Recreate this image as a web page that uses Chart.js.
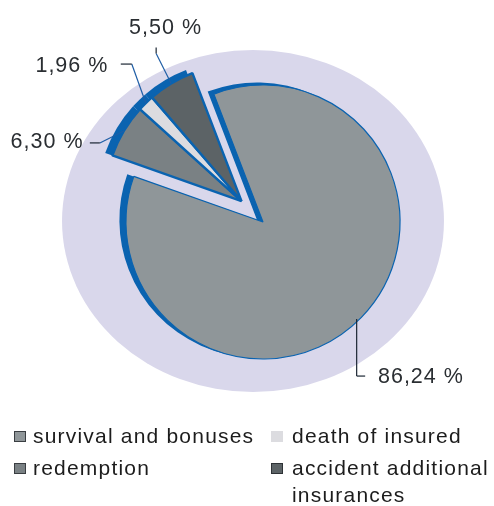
<!DOCTYPE html>
<html>
<head>
<meta charset="utf-8">
<script src="https://cdn.jsdelivr.net/npm/chart.js@4.4.1/dist/chart.umd.min.js"></script>
<style>
  html, body { margin: 0; padding: 0; background: #fff; }
  #wrap { width: 494px; height: 506px; position: relative; }
</style>
</head>
<body>
<div id="wrap"><canvas id="utbetalningar"></canvas></div>
<script>
//data: andelar i procent
const categories = ['survival and bonuses', 'redemption', 'death of insured', 'accident additional insurances'];
const shares = [86.24, 6.30, 1.96, 5.50];

//utseende
const slice_colors = ['#8f9699', '#7a8184', '#dcdce0', '#5c6366'];
const slice_borders = [1.2, 2.4, 2.4, 2.4];
const legend_edges = ['#3a3e42', '#3a3e42', null, '#2e3236'];
const edge_blue = '#0a63b0';
const backdrop_color = '#d9d7eb';
const shadow_shift = [-6, -2];
const slice_lift = [0, 1, 1, 1];      //vilka bitar som lyfts ut
const lift_distance = 30;
const pie_radius = 137;

//ledarlinjer och textpositioner, relativt bitens ytterkant
const leader_paths = [
    [[-4.5, 1.5], [-4.5, 58.5], [4, 58.5]],
    [[0, 0], [-24, 12], [-34, 12]],
    [[0, 0], [-14, -39], [-25, -39]],
    [[0, 0], [-15, -30], [-15, -36]]
];
const label_offsets = [[16.8, 65.5, 'left'], [-40.3, 17.1, 'right'], [-37.4, -30.9, 'right'], [-5.6, -50, 'center']];

//legend: kolumn och rad per kategori
const legend_slots = [[0, 0], [0, 1], [1, 0], [1, 1]];
const legend_text_x = [33, 292];
const legend_box_x = [14, 271];
const legend_rows = [443, 475];
const legend_line = 27;

function format_share(value)
{
    return value.toFixed(2).replace('.', ',') + ' %';
}

const pie_look = {
    id: 'pie_look',
    //flyttar ut de små bitarna tillsammans längs gruppens mittvinkel
    afterDatasetUpdate(chart, args) {
        const arcs = chart.getDatasetMeta(args.index).data;
        const lifted = arcs.filter((a, i) => slice_lift[i] > 0);
        if (!lifted.length) return;
        const mid = (lifted[0].startAngle + lifted[lifted.length - 1].endAngle) / 2;
        lifted.forEach(a => {
            a.x += Math.cos(mid) * lift_distance;
            a.y += Math.sin(mid) * lift_distance;
        });
    },
    //lila bakgrund och blå kant bakom bitarna
    beforeDatasetsDraw(chart) {
        const ctx = chart.ctx;
        const arcs = chart.getDatasetMeta(0).data;
        const main = arcs[0];
        ctx.save();
        ctx.fillStyle = backdrop_color;
        ctx.beginPath();
        ctx.ellipse(main.x - 10, main.y - 1, main.outerRadius * 1.394, main.outerRadius * 1.248, 0, 0, Math.PI * 2);
        ctx.fill();

        ctx.fillStyle = edge_blue;
        ctx.translate(shadow_shift[0], shadow_shift[1]);
        arcs.forEach((a, i) => {
            ctx.beginPath();
            ctx.moveTo(a.x, a.y);
            ctx.arc(a.x, a.y, a.outerRadius + slice_borders[i] / 2, a.startAngle, a.endAngle);
            ctx.closePath();
            ctx.fill();
        });
        ctx.restore();
    },
    afterDatasetsDraw(chart) {
        const ctx = chart.ctx;
        const arcs = chart.getDatasetMeta(0).data;
        ctx.save();
        ctx.lineWidth = 1.2;
        ctx.font = '21.5px "Liberation Sans", Arial, sans-serif';
        ctx.letterSpacing = '1px';
        ctx.fillStyle = '#2a2e32';
        ctx.textBaseline = 'alphabetic';
        arcs.forEach((a, i) => {
            const mid = (a.startAngle + a.endAngle) / 2;
            const ax = a.x + Math.cos(mid) * a.outerRadius;
            const ay = a.y + Math.sin(mid) * a.outerRadius;
            const pts = leader_paths[i].map(p => [ax + p[0], ay + p[1]]);
            for (let k = 1; k < pts.length; k++) {
                ctx.strokeStyle = (k == 1 && slice_lift[i] > 0) ? '#1f5ea6' : '#1b2633';
                ctx.beginPath();
                ctx.moveTo(pts[k - 1][0], pts[k - 1][1]);
                ctx.lineTo(pts[k][0], pts[k][1]);
                ctx.stroke();
            }
            const lo = label_offsets[i];
            ctx.textAlign = lo[2];
            ctx.fillText(format_share(shares[i]), ax + lo[0], ay + lo[1]);
        });
        ctx.restore();
    },
    //egen legend i två kolumner
    afterDraw(chart) {
        const ctx = chart.ctx;
        ctx.save();
        ctx.font = '21px "Liberation Sans", Arial, sans-serif';
        ctx.letterSpacing = '1.2px';
        ctx.textAlign = 'left';
        ctx.textBaseline = 'alphabetic';
        categories.forEach((name, i) => {
            const col = legend_slots[i][0];
            const row = legend_slots[i][1];
            const base = legend_rows[row];
            ctx.fillStyle = slice_colors[i];
            ctx.fillRect(legend_box_x[col], base - 12, 12, 11);
            if (legend_edges[i]) {
                ctx.strokeStyle = legend_edges[i];
                ctx.lineWidth = 1;
                ctx.strokeRect(legend_box_x[col] + 0.5, base - 11.5, 11, 10);
            }
            //radbrytning om texten inte får plats
            const max_w = chart.width - legend_text_x[col] - 2;
            let line = '';
            let y = base;
            ctx.fillStyle = '#1c1c1c';
            name.split(' ').forEach(word => {
                const test = line ? line + ' ' + word : word;
                if (ctx.measureText(test).width > max_w && line) {
                    ctx.fillText(line, legend_text_x[col], y);
                    line = word;
                    y += legend_line;
                }
                else line = test;
            });
            ctx.fillText(line, legend_text_x[col], y);
        });
        ctx.restore();
    }
};

new Chart(document.getElementById('utbetalningar'), {
    type: 'pie',
    data: {
        labels: categories,
        datasets: [{
            data: shares,
            backgroundColor: slice_colors,
            borderColor: edge_blue,
            borderWidth: slice_borders
        }]
    },
    options: {
        responsive: true,
        maintainAspectRatio: false,
        animation: false,
        events: [],
        rotation: -21,
        radius: pie_radius,
        layout: { padding: { left: 40, right: 8, top: 10, bottom: 72 } },
        plugins: {
            legend: { display: false },
            tooltip: { enabled: false }
        }
    },
    plugins: [pie_look]
});
</script>
</body>
</html>
